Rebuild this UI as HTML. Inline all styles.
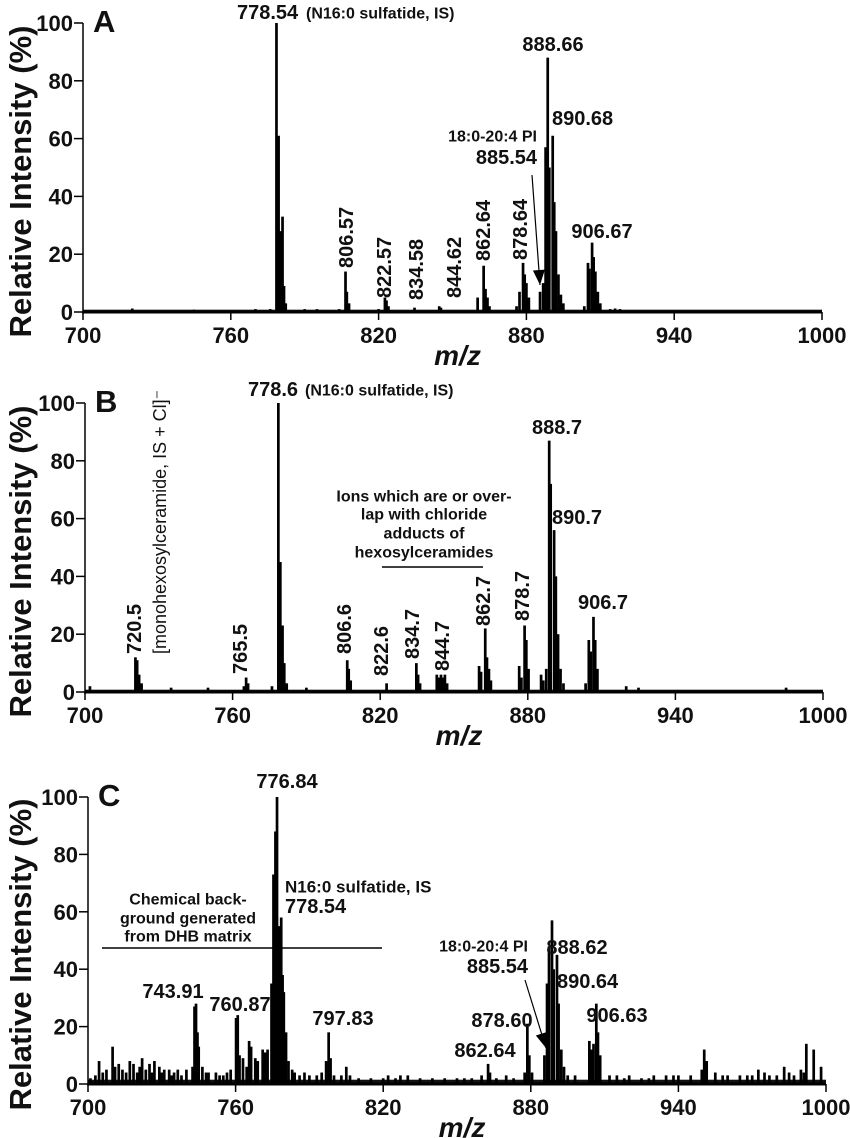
<!DOCTYPE html>
<html><head><meta charset="utf-8"><style>
html,body{margin:0;padding:0;background:#fff}
svg{display:block}
text{font-family:"Liberation Sans",sans-serif;fill:#111}
</style></head><body>
<svg id="fig" width="850" height="1138" viewBox="0 0 850 1138" xmlns="http://www.w3.org/2000/svg"></svg>
<script>
// ---- data ----
const xTicks = [700, 760, 820, 880, 940, 1000];
const yTicks = [0, 20, 40, 60, 80, 100];

const mzA = [720,745,770,776,778.54,779.4,780.3,781,781.6,782.3,790,795,804,806.57,807.1,808,820,822.57,823.2,824,834.58,844.62,845.3,860.2,862.64,863.4,864.2,865,876,877.2,878.64,879.3,880,881,885.54,886.8,887.8,888.66,889.3,890.68,891.3,892,893,894,895,903.5,905,905.6,906.67,907.3,908,909,910,914,916,918];
const intA = [1.2,0.8,1,1,100,61,28,33,9,3,1,1,1,14,7,3,1,5,4,2,1.5,2,1.5,5,16,8,5,2,2,7,17,13,10,5,7,10,57,88,50,61,38,28,13,6,3,2,17,15,24,19,14,7,3,1,1.2,1];

const mzB = [702,720.5,721.2,722,723,735,750,764.6,765.5,766.3,776,778.6,779.4,780.3,781,782,790,806.6,807.2,808,822.6,834.7,835.4,836.2,843,844,844.7,845.5,846.3,847.2,860.2,861,862.7,863.4,864.2,865,876.5,877.4,878.7,879.4,880.3,885.4,886.3,887.5,888.7,889.3,890.7,891.4,892.3,893.3,894.5,903.5,904.8,905.6,906.7,907.4,908.3,920,925,985];
const intB = [2,12,11,6,3,1.5,1.5,2,5,3,2,100,45,23,10,3,1.5,11,8,4,3,10,6,3,6,5,6,5,6,3,9,7,22,12,8,4,9,5,23,18,8,6,4,8,87,72,56,40,20,8,3,3,18,14,26,18,8,2,1.5,1.5];

const mzC = [701,703,704.5,706,707.5,710,711,712.5,714,715.5,717,718.5,720,721,722,723.5,725,726,727,729,730,731,733,734,735,736.5,738,740,742.5,743.3,743.91,744.5,745,746.5,748,749,752,753.5,755,756.5,758,760.2,760.87,761.6,763,764.5,765.5,766.3,768,769,771,772,773,774.6,775.4,776.2,776.84,777.5,778.54,779.1,779.6,780.5,781.5,783,784,786,788,790,793,795,796.8,797.83,798.6,800,803,805,806.5,810,815,820,822,825,827,830,835,840,845,850,853,856,860,862.64,863.4,866,870,873,877.5,878.6,879.4,880.5,885.54,886.6,887.4,888.62,889.3,890.64,891.3,892.4,893.5,895,898,903.8,904.8,905.5,906.63,907.3,908.2,912,915,918,920,925,928,930,935,938,940,945,949.5,950.5,951.5,955,958,960,965,968,970,972.5,975,977,980,983,985,987,989.8,991,992,995,998];
const intC = [2,3,8,4,5,13,6,7,5,4,8,7,4,6,9,5,7,4,8,6,4,5,5,3,4,5,3,5,6,27,28,18,13,6,4,4,4,3,3,4,5,23,24,10,9,6,15,13,9,8,12,11,12,35,73,88,100,55,58,38,32,18,8,5,4,3,4,3,3,4,8,18,9,3,3,6,3,2,2,2,3,2,3,3,2,2,2,2,2,2,3,7,4,2,3,2,4,21,10,4,10,35,48,57,40,45,28,12,6,3,3,15,12,14,28,18,10,3,3,2,3,2,2,3,3,3,3,3,5,12,8,4,3,3,3,3,3,5,4,3,3,6,4,3,5,4,14,12,6,3,3];

// ---- drawing ----
const NS = "http://www.w3.org/2000/svg";
const svg = document.getElementById('fig');
function el(tag, attrs, parent, txt){
  const e = document.createElementNS(NS, tag);
  for (const k in attrs) e.setAttribute(k, attrs[k]);
  if (txt !== undefined) e.textContent = txt;
  (parent||svg).appendChild(e);
  return e;
}
function panel(id, x0, x1, y0, y100, mz, inten, baseline){
  const g = el('g', {});
  
  
  const X = v => x0 + (v - 700) / 300 * (x1 - x0);
  const Y = v => y0 - v / 100 * (y0 - y100);
  if (baseline > 0) {
    const b = el('rect', {x: X(700), y: Y(baseline), width: X(1000) - X(700), height: y0 - Y(baseline), fill: '#111'}, g);
    
    
  }
  for (let i = 0; i < mz.length; i++) {
    const p = el('line', {x1: X(mz[i]), x2: X(mz[i]), y1: y0, y2: Y(inten[i]), stroke: '#000', 'stroke-width': 2.7}, g);
    
    
  }
  const ya = el('line', {x1: x0, x2: x0, y1: y0 + 2, y2: y100, stroke: '#000', 'stroke-width': 1.5}, g);
  
  
  const xa = el('line', {x1: x0, x2: x1, y1: y0, y2: y0, stroke: '#000', 'stroke-width': 3}, g);
  
  
  yTicks.forEach(t => {
    el('line', {x1: x0 - 9, x2: x0, y1: Y(t), y2: Y(t), stroke: '#000', 'stroke-width': 1.5}, g);
    const tl = el('text', {x: x0 - 10, y: Y(t) + 8, 'text-anchor': 'end', 'font-size': 22, 'font-weight': 'bold'}, g, t);
    
    
  });
  xTicks.forEach(t => {
    el('line', {x1: X(t), x2: X(t), y1: y0, y2: y0 + 8, stroke: '#000', 'stroke-width': 1.5}, g);
    const tl = el('text', {x: X(t), y: y0 + 31, 'text-anchor': 'middle', 'font-size': 22, 'font-weight': 'bold'}, g, t);
    
    
  });
  const xt = el('text', {x: (x0 + x1) / 2 + 5, y: y0 + 53, 'text-anchor': 'middle', 'font-size': 28, 'font-weight': 'bold', 'font-style': 'italic'}, g, 'm/z');
  
  
  const cy = (y0 + y100) / 2 + 14;
  const yt = el('text', {x: 0, y: 0, transform: `translate(31,${cy}) rotate(-90)`, 'text-anchor': 'middle', 'font-size': 31, 'font-weight': 'bold', textLength: 312, lengthAdjust: 'spacingAndGlyphs'}, g, 'Relative Intensity (%)');
  
  
  const pl = el('text', {x: x0 + 10, y: y100 + 9, 'font-size': 31, 'font-weight': 'bold'}, g, id);
  
  
  return g;
}
function lab(g, x, y, s, opt){
  opt = opt || {};
  const a = {x: x, y: y, 'font-size': opt.fs || 20, 'text-anchor': opt.anchor || 'middle', 'dominant-baseline': 'central', 'font-weight': opt.normal ? 'normal' : 'bold'};
  if (opt.rot) { a.transform = `rotate(-90 ${x} ${y})`; a['text-anchor'] = 'start'; }
  const t = el('text', a, g, s);
  
  
  return t;
}
function arrow(g, x1, y1, x2, y2){
  el('line', {x1: x1, y1: y1, x2: x2, y2: y2, stroke: '#000', 'stroke-width': 1.2}, g);
  const ang = Math.atan2(y2 - y1, x2 - x1), L = 15, W = 6;
  const bx = x2 - L * Math.cos(ang), by = y2 - L * Math.sin(ang);
  const px = -Math.sin(ang) * W, py = Math.cos(ang) * W;
  const h = el('polygon', {points: `${x2},${y2} ${bx + px},${by + py} ${bx - px},${by - py}`, fill: '#000'}, g);
  
  
}
function hline(g, x1, x2, y){
  const l = el('line', {x1: x1, x2: x2, y1: y, y2: y, stroke: '#000', 'stroke-width': 1.6}, g);
  
  
}

// Panel A
const gA = panel('A', 83, 822, 312, 23, mzA, intA, 0.8);
lab(gA, 237, 13, '778.54', {anchor: 'start'});
lab(gA, 306, 14, '(N16:0 sulfatide, IS)', {anchor: 'start', fs: 16});
lab(gA, 347, 268, '806.57', {rot: true});
lab(gA, 385, 298, '822.57', {rot: true});
lab(gA, 417, 300, '834.58', {rot: true});
lab(gA, 455, 298, '844.62', {rot: true});
lab(gA, 484, 261, '862.64', {rot: true});
lab(gA, 521, 260, '878.64', {rot: true});
lab(gA, 537, 137, '18:0-20:4 PI', {anchor: 'end', fs: 16});
lab(gA, 537, 158, '885.54', {anchor: 'end'});
arrow(gA, 532, 175, 540, 285);
lab(gA, 553, 45, '888.66');
lab(gA, 552, 119, '890.68', {anchor: 'start'});
lab(gA, 602, 232, '906.67');

// Panel B
const gB = panel('B', 85, 823, 692, 403, mzB, intB, 0.8);
lab(gB, 248, 390, '778.6', {anchor: 'start'});
lab(gB, 305, 391, '(N16:0 sulfatide, IS)', {anchor: 'start', fs: 16});
lab(gB, 135, 654, '720.5', {rot: true});
lab(gB, 160, 654, '[monohexosylceramide, IS + Cl]⁻', {rot: true, fs: 18, normal: true});
lab(gB, 241, 674, '765.5', {rot: true});
lab(gB, 345, 654, '806.6', {rot: true});
lab(gB, 382, 676, '822.6', {rot: true});
lab(gB, 413, 659, '834.7', {rot: true});
lab(gB, 443, 671, '844.7', {rot: true});
lab(gB, 484, 626, '862.7', {rot: true});
lab(gB, 523, 621, '878.7', {rot: true});
lab(gB, 424, 497, 'Ions which are or over-', {fs: 16});
lab(gB, 424, 515, 'lap with chloride', {fs: 16});
lab(gB, 424, 534, 'adducts of', {fs: 16});
lab(gB, 424, 553, 'hexosylceramides', {fs: 16});
hline(gB, 382, 483, 567);
lab(gB, 557, 428, '888.7');
lab(gB, 552, 518, '890.7', {anchor: 'start'});
lab(gB, 603, 603, '906.7');

// Panel C
const gC = panel('C', 88, 826, 1084, 797, mzC, intC, 1.5);
lab(gC, 287, 782, '776.84');
lab(gC, 285, 887, 'N16:0 sulfatide, IS', {anchor: 'start', fs: 17});
lab(gC, 285, 907, '778.54', {anchor: 'start'});
lab(gC, 188, 900, 'Chemical back-', {fs: 16});
lab(gC, 188, 919, 'ground generated', {fs: 16});
lab(gC, 188, 937, 'from DHB matrix', {fs: 16});
hline(gC, 102, 382, 948);
lab(gC, 173, 992, '743.91');
lab(gC, 240, 1005, '760.87');
lab(gC, 343, 1019, '797.83');
lab(gC, 485, 1051, '862.64');
lab(gC, 502, 1021, '878.60');
lab(gC, 528, 947, '18:0-20:4 PI', {anchor: 'end', fs: 16});
lab(gC, 528, 967, '885.54', {anchor: 'end'});
arrow(gC, 525, 980, 546, 1048);
lab(gC, 577, 948, '888.62');
lab(gC, 557, 982, '890.64', {anchor: 'start'});
lab(gC, 617, 1016, '906.63');
</script>
</body></html>
